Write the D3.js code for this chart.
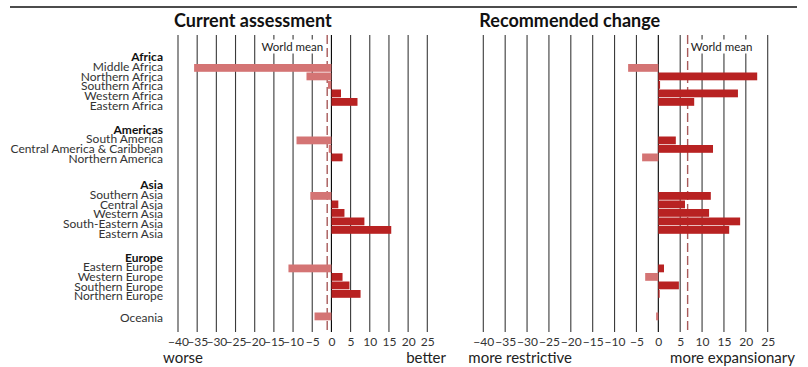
<!DOCTYPE html>
<html><head><meta charset="utf-8">
<script src="https://cdn.jsdelivr.net/npm/d3@7"></script>
<style>
html,body{margin:0;padding:0;background:#fff;}
svg{display:block;font-family:Lato, "Noto Sans", sans-serif;}
</style></head>
<body><svg id="c" width="808" height="367"></svg>
<script>
// ---- data ----
const groups = ["Africa", "Americas", "Asia", "Europe", ""];
const regions = ["Middle Africa","Northern Africa","Southern Africa","Western Africa","Eastern Africa",
  "South America","Central America & Caribbean","Northern America",
  "Southern Asia","Central Asia","Western Asia","South-Eastern Asia","Eastern Asia",
  "Eastern Europe","Western Europe","Southern Europe","Northern Europe",
  "Oceania"];
const regionGroup = ["Africa","Africa","Africa","Africa","Africa",
  "Americas","Americas","Americas",
  "Asia","Asia","Asia","Asia","Asia",
  "Europe","Europe","Europe","Europe",
  ""];
const currentValues = [-35.8,-6.5,-0.9,2.5,6.8, -9.1,-0.7,2.9, -5.5,1.8,3.4,8.6,15.6, -11.2,2.9,4.7,7.6, -4.4];
const recommendedValues = [-6.9,22.6,0.4,18.2,8.2, 4.0,12.5,-3.7, 12.0,6.1,11.6,18.7,16.2, 1.3,-3.0,4.7,0.3, -0.5];
const worldMeans = [-1.1, 6.7];
const panelTitles = ["Current assessment", "Recommended change"];
const lowLabels = ["worse", "more restrictive"];
const highLabels = ["better", "more expansionary"];
const tickValues = [-40,-35,-30,-25,-20,-15,-10,-5,0,5,10,15,20,25];

// ---- layout ----
const svg = d3.select("#c");
const firstRowY = 67.9, rowStep = 8.5, barH = 7.8, groupGap = 14, headerGap = 16;
const labelLine = 9.7, headerOffset = -11;
const gridTop = 35, gridBottom = 332;

// compute row centres
const rowY = [], headerY = {};
let y = firstRowY;
regions.forEach((r, i) => {
  if (i > 0) {
    if (regionGroup[i] !== regionGroup[i-1]) {
      y += rowStep + groupGap + (regionGroup[i] ? headerGap : 0);
    } else y += rowStep;
  }
  rowY.push(y);
});
const yScale = d3.scaleOrdinal().domain(regions).range(rowY);

// label positions
const labelY = [];
groups.forEach(g => {
  const idx = regions.map((r,i)=>i).filter(i => regionGroup[i] === g);
  const start = rowY[idx[0]];
  if (g) {
    headerY[g] = start + headerOffset;
    idx.forEach((i, j) => labelY[i] = headerY[g] + (j+1)*labelLine);
  } else {
    idx.forEach((i, j) => labelY[i] = start + 1 + j*labelLine);
  }
});

const panels = [
  {values: currentValues, range: [178, 427.3], mean: worldMeans[0], title: panelTitles[0], lo: lowLabels[0], hi: highLabels[0], hiX: 446, meanSide: "left"},
  {values: recommendedValues, range: [483.3, 767.7], mean: worldMeans[1], title: panelTitles[1], lo: lowLabels[1], hi: highLabels[1], hiX: 795, meanSide: "right"}
];

// top rule
svg.append("line").attr("x1", 10).attr("x2", 797).attr("y1", 7).attr("y2", 7)
  .attr("stroke", "#111").attr("stroke-width", 1.6);

const posColor = "#b82222", negColor = "#d47474";

panels.forEach(p => {
  const x = d3.scaleLinear().domain([-40, 25]).range(p.range);
  const g = svg.append("g");
  // gridlines
  g.selectAll("line.grid").data(tickValues).join("line")
    .attr("x1", d => x(d)).attr("x2", d => x(d))
    .attr("y1", gridTop).attr("y2", gridBottom)
    .attr("stroke", d => d === 0 ? "#000" : "#3a3a3a").attr("stroke-width", 1.1);
  // world mean
  g.append("line").attr("x1", x(p.mean)).attr("x2", x(p.mean))
    .attr("y1", gridTop).attr("y2", gridBottom)
    .attr("stroke", "#a85a5a").attr("stroke-width", 1.4).attr("stroke-dasharray", "9,4");
  const mt = g.append("text").text("World mean")
    .attr("x", p.meanSide === "left" ? x(p.mean) - 4 : x(p.mean) + 3)
    .attr("y", 50.5).attr("font-size", 11.5).attr("fill", "#222")
    .attr("text-anchor", p.meanSide === "left" ? "end" : "start");
  const bb = mt.node().getBBox();
  g.insert("rect", "text").attr("x", bb.x - 1).attr("y", 39.5).attr("width", bb.width + 2).attr("height", 14).attr("fill", "#fff");
  // bars
  g.selectAll("rect.bar").data(regions).join("rect")
    .attr("x", (d,i) => x(Math.min(0, p.values[i])))
    .attr("width", (d,i) => Math.abs(x(p.values[i]) - x(0)))
    .attr("y", d => yScale(d) - barH/2).attr("height", barH)
    .attr("fill", (d,i) => p.values[i] < 0 ? negColor : posColor);
  // axis
  const axis = d3.axisBottom(x).tickValues(tickValues).tickSize(0).tickPadding(0);
  const ax = g.append("g").attr("transform", `translate(0,${337})`).call(axis);
  ax.select(".domain").remove();
  ax.selectAll("text").attr("font-size", 12).attr("fill", "#333").attr("font-family", "Lato").attr("dy", "0.71em");
  // titles
  g.append("text").text(p.title).attr("x", p.range[0] - 4).attr("y", 27)
    .attr("font-size", 18).attr("font-weight", "bold").attr("fill", "#111");
  g.append("text").text(p.lo).attr("x", p.range[0] - 15).attr("y", 362.5)
    .attr("font-size", 15).attr("fill", "#222");
  g.append("text").text(p.hi).attr("x", p.hiX).attr("y", 362.5).attr("text-anchor", "end")
    .attr("font-size", 15).attr("fill", "#222");
});

// row labels
const lab = svg.append("g").attr("font-size", 12).attr("text-anchor", "end");
groups.filter(g => g).forEach(g => {
  lab.append("text").text(g).attr("x", 163).attr("y", headerY[g]).attr("dy", "0.35em")
    .attr("font-weight", "bold").attr("fill", "#111");
});
regions.forEach((r, i) => {
  lab.append("text").text(r).attr("x", 163).attr("y", labelY[i]).attr("dy", "0.35em").attr("fill", "#333");
});
</script></body></html>
